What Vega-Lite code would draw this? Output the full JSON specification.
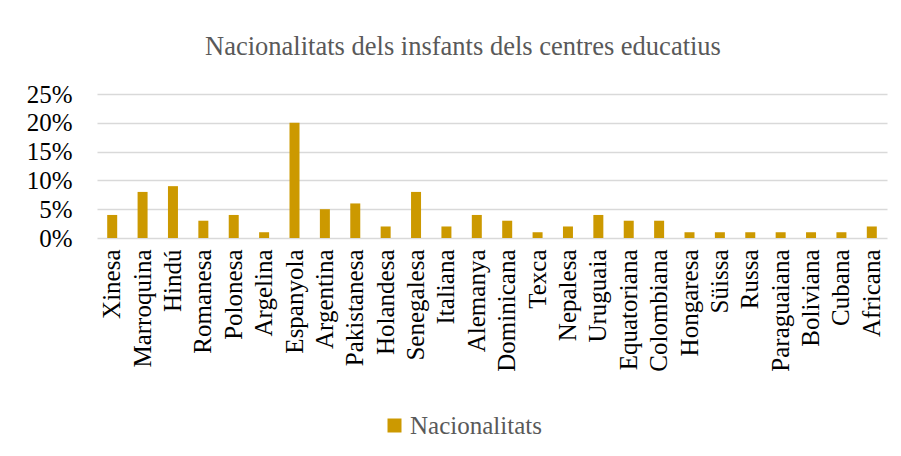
{
  "$schema": "https://vega.github.io/schema/vega-lite/v6.json",
  "width": 790,
  "height": 144,
  "autosize": {"type": "none"},
  "padding": {"left": 97, "top": 94, "right": 14, "bottom": 218},
  "background": "white",
  "title": {
    "text": "Nacionalitats dels insfants dels centres educatius",
    "font": "Liberation Serif",
    "fontSize": 26.5,
    "fontWeight": "normal",
    "color": "#595959",
    "offset": 22,
    "dx": -29,
    "anchor": "middle"
  },
  "data": {
    "values": [
      {"nacionalitat": "Xinesa", "valor": 0.04},
      {"nacionalitat": "Marroquina", "valor": 0.08},
      {"nacionalitat": "Hindú", "valor": 0.09},
      {"nacionalitat": "Romanesa", "valor": 0.03},
      {"nacionalitat": "Polonesa", "valor": 0.04},
      {"nacionalitat": "Argelina", "valor": 0.01},
      {"nacionalitat": "Espanyola", "valor": 0.20},
      {"nacionalitat": "Argentina", "valor": 0.05},
      {"nacionalitat": "Pakistanesa", "valor": 0.06},
      {"nacionalitat": "Holandesa", "valor": 0.02},
      {"nacionalitat": "Senegalesa", "valor": 0.08},
      {"nacionalitat": "Italiana", "valor": 0.02},
      {"nacionalitat": "Alemanya", "valor": 0.04},
      {"nacionalitat": "Dominicana", "valor": 0.03},
      {"nacionalitat": "Texca", "valor": 0.01},
      {"nacionalitat": "Nepalesa", "valor": 0.02},
      {"nacionalitat": "Uruguaia", "valor": 0.04},
      {"nacionalitat": "Equatoriana", "valor": 0.03},
      {"nacionalitat": "Colombiana", "valor": 0.03},
      {"nacionalitat": "Hongaresa", "valor": 0.01},
      {"nacionalitat": "Süissa", "valor": 0.01},
      {"nacionalitat": "Russa", "valor": 0.01},
      {"nacionalitat": "Paraguaiana", "valor": 0.01},
      {"nacionalitat": "Boliviana", "valor": 0.01},
      {"nacionalitat": "Cubana", "valor": 0.01},
      {"nacionalitat": "Africana", "valor": 0.02}
    ]
  },
  "mark": {"type": "bar", "size": 10},
  "encoding": {
    "x": {
      "field": "nacionalitat",
      "type": "nominal",
      "sort": null,
      "title": null,
      "scale": {"paddingInner": 0, "paddingOuter": 0},
      "axis": {
        "labelAngle": -90,
        "labelFont": "Liberation Serif",
        "labelFontSize": 25,
        "labelColor": "#000000",
        "labelPadding": 11,
        "labelLimit": 300,
        "ticks": false,
        "domain": false,
        "grid": false
      }
    },
    "y": {
      "field": "valor",
      "type": "quantitative",
      "title": null,
      "scale": {"domain": [0, 0.25]},
      "axis": {
        "format": ".0%",
        "values": [0, 0.05, 0.1, 0.15, 0.2, 0.25],
        "labelFont": "Liberation Serif",
        "labelFontSize": 25,
        "labelColor": "#000000",
        "labelPadding": 25,
        "ticks": false,
        "domain": false,
        "grid": true,
        "gridColor": "#d9d9d9",
        "gridWidth": 1.5
      }
    },
    "color": {
      "datum": "Nacionalitats",
      "type": "nominal",
      "scale": {"range": ["#CC9900"]},
      "legend": {
        "title": null,
        "orient": "none",
        "legendX": 285,
        "legendY": 319,
        "direction": "horizontal",
        "symbolType": "square",
        "symbolSize": 196,
        "symbolStrokeWidth": 0,
        "labelFont": "Liberation Serif",
        "labelFontSize": 25,
        "labelColor": "#595959",
        "labelOffset": 3
      }
    }
  },
  "config": {
    "view": {"stroke": null}
  }
}
